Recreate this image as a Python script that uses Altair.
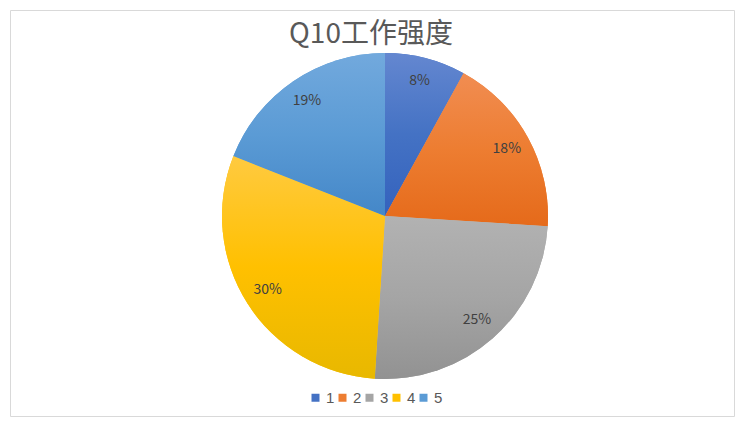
import altair as alt
import pandas as pd

categories = ["1", "2", "3", "4", "5"]
values = [8, 18, 25, 30, 19]
labels = ["8%", "18%", "25%", "30%", "19%"]
colors = ["#4472C4", "#ED7D31", "#A5A5A5", "#FFC000", "#5B9BD5"]
grad_top = ["#6487D0", "#F18D52", "#B2B2B2", "#FFCA40", "#72A9DD"]
grad_bottom = ["#3462BD", "#E56A1A", "#929292", "#E8B800", "#4487C8"]
title_text = "Q10工作强度"

FONT = "Noto Sans CJK SC"

df = pd.DataFrame({"cat": categories, "value": values, "label": labels,
                   "idx": list(range(len(categories)))})

cx, cy = 375, 206
R = 163
theta_scale = alt.Scale(domain=[0, sum(values)])

stacked = alt.Chart(df).transform_stack(
    stack="value", as_=["s0", "s1"], groupby=[], sort=[alt.SortField("idx")]
)

pie = stacked.mark_arc(outerRadius=R).encode(
    theta=alt.Theta("s0:Q", scale=theta_scale),
    theta2="s1:Q",
    color=alt.Color(
        "cat:N",
        scale=alt.Scale(domain=categories, range=colors),
        legend=alt.Legend(
            title=None, orient="none", direction="horizontal",
            legendX=298, legendY=380,
            symbolType="square", symbolSize=64, symbolStrokeWidth=0,
            labelFontSize=15, labelColor="#595959", labelFont="Liberation Sans",
            columnPadding=0, labelOffset=3,
        ),
    ),
    x=alt.value(cx), y=alt.value(cy),
)

grad_layers = []
for c, base_col, top, bot in zip(categories, colors, grad_top, grad_bottom):
    g = alt.Gradient(
        gradient="linear", x1=0, y1=0, x2=0, y2=1,
        stops=[alt.GradientStop(color=top, offset=0),
               alt.GradientStop(color=base_col, offset=0.5),
               alt.GradientStop(color=bot, offset=1)],
    )
    layer = stacked.transform_filter(alt.datum.cat == c).mark_arc(
        outerRadius=R, fill=g
    ).encode(
        theta=alt.Theta("s0:Q", scale=theta_scale),
        theta2="s1:Q",
        x=alt.value(cx), y=alt.value(cy),
    )
    grad_layers.append(layer)

text = stacked.transform_calculate(mid="(datum.s0 + datum.s1) / 2").mark_text(
    radius=139, fontSize=14, color="#404040", font=FONT
).encode(
    theta=alt.Theta("mid:Q", scale=theta_scale),
    text="label:N", x=alt.value(cx), y=alt.value(cy),
)

title = alt.Chart(pd.DataFrame({"t": [title_text]})).mark_text(
    fontSize=28, color="#595959", font=FONT, baseline="middle", align="center"
).encode(text="t:N", x=alt.value(361), y=alt.value(25))

chart = alt.layer(pie, *grad_layers, text, title).properties(
    width=724, height=406,
    autosize=alt.AutoSizeParams(type="none"),
    padding=2,
).configure_view(stroke="#D9D9D9", strokeWidth=1)

chart.save("out.html", embed_options={"renderer": "svg", "actions": False})
